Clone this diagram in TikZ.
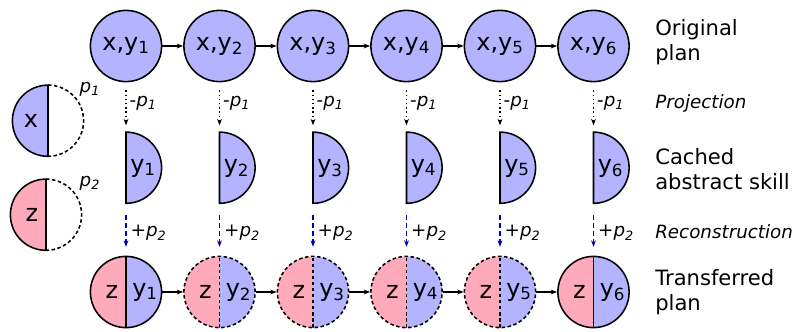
\documentclass[tikz,border=0pt]{standalone}
\usepackage{fontspec}
\setmainfont{DejaVu Sans}
\usetikzlibrary{arrows.meta,calc}
\definecolor{skillfill}{RGB}{179,179,255}
\definecolor{taskfill}{RGB}{255,170,187}
\definecolor{recblue}{RGB}{0,0,185}

\begin{document}
\begin{tikzpicture}[
  x=0.025cm, y=0.025cm,
  font=\fontsize{15}{18}\selectfont,
  big/.style={font=\fontsize{17}{20}\selectfont},
  plan/.style={circle, draw, line width=1.1pt, fill=skillfill, minimum size=1.78cm, inner sep=0pt, big},
  spot/.style={circle, minimum size=1.78cm, inner sep=0pt, big},
  rim/.style={line width=1.1pt},
  open/.style={line width=1.1pt, dash pattern=on 2.5pt off 1.8pt},
  mixed/.style={circle, draw, line width=1.1pt, minimum size=1.78cm, inner sep=0pt, #1,
    path picture={
      \fill[taskfill] (path picture bounding box.south west) rectangle (path picture bounding box.north);
      \fill[skillfill] (path picture bounding box.south) rectangle (path picture bounding box.north east);
      \draw[line width=1.1pt, #1] (path picture bounding box.south) -- (path picture bounding box.north);}},
  mixed/.default=rim,
  next/.style={line width=0.8pt, -{Stealth[length=1.6mm, width=1.2mm]}},
  proj/.style={line width=1pt, dotted, -{Stealth[length=1.6mm, width=1.2mm]}, shorten <=0.2cm, shorten >=0.17cm},
  recon/.style={recblue, line width=1pt, dash pattern=on 3.5pt off 2.2pt, -{Stealth[length=1.6mm, width=1.2mm]}, shorten <=0.28cm, shorten >=0.22cm},
  diff/.style={font=\fontsize{13}{15}\selectfont, anchor=west, inner sep=1pt},
  row/.style={anchor=west, align=left, inner sep=0pt},
  stage/.style={anchor=west, inner sep=0pt, font=\fontsize{13}{15}\selectfont\itshape},
]
\useasboundingbox (0,0) rectangle (797,-331);

% original plan
\node[plan] (o1) at (126,-46) {x,y\textsubscript{1}};
\node[plan] (o2) at (219.5,-46) {x,y\textsubscript{2}};
\node[plan] (o3) at (313,-46) {x,y\textsubscript{3}};
\node[plan] (o4) at (406.5,-46) {x,y\textsubscript{4}};
\node[plan] (o5) at (500,-46) {x,y\textsubscript{5}};
\node[plan] (o6) at (593.5,-46) {x,y\textsubscript{6}};
\draw[next] (o1) -- (o2);
\draw[next] (o2) -- (o3);
\draw[next] (o3) -- (o4);
\draw[next] (o4) -- (o5);
\draw[next] (o5) -- (o6);

% cached abstract skill
\node[spot] (c1) at (126,-168) {};
\node[spot] (c2) at (219.5,-168) {};
\node[spot] (c3) at (313,-168) {};
\node[spot] (c4) at (406.5,-168) {};
\node[spot] (c5) at (500,-168) {};
\node[spot] (c6) at (593.5,-168) {};
\filldraw[rim, fill=skillfill] (c1.north) arc[start angle=90, end angle=-90, radius=0.89cm] -- cycle;
\filldraw[rim, fill=skillfill] (c2.north) arc[start angle=90, end angle=-90, radius=0.89cm] -- cycle;
\filldraw[rim, fill=skillfill] (c3.north) arc[start angle=90, end angle=-90, radius=0.89cm] -- cycle;
\filldraw[rim, fill=skillfill] (c4.north) arc[start angle=90, end angle=-90, radius=0.89cm] -- cycle;
\filldraw[rim, fill=skillfill] (c5.north) arc[start angle=90, end angle=-90, radius=0.89cm] -- cycle;
\filldraw[rim, fill=skillfill] (c6.north) arc[start angle=90, end angle=-90, radius=0.89cm] -- cycle;
\node[big] (cy1) at ($(c1)+(17,0)$) {y\textsubscript{1}};
\node[big] (cy2) at ($(c2)+(17,0)$) {y\textsubscript{2}};
\node[big] (cy3) at ($(c3)+(17,0)$) {y\textsubscript{3}};
\node[big] (cy4) at ($(c4)+(17,0)$) {y\textsubscript{4}};
\node[big] (cy5) at ($(c5)+(17,0)$) {y\textsubscript{5}};
\node[big] (cy6) at ($(c6)+(17,0)$) {y\textsubscript{6}};

% transferred plan
\node[mixed] (t1) at (126,-292) {};
\node[mixed=open] (t2) at (219.5,-292) {};
\node[mixed=open] (t3) at (313,-292) {};
\node[mixed=open] (t4) at (406.5,-292) {};
\node[mixed=open] (t5) at (500,-292) {};
\node[mixed] (t6) at (593.5,-292) {};
\node[big] (tz1) at ($(t1)+(-14,0)$) {z}; \node[big] (ty1) at ($(t1)+(19,0)$) {y\textsubscript{1}};
\node[big] (tz2) at ($(t2)+(-14,0)$) {z}; \node[big] (ty2) at ($(t2)+(19,0)$) {y\textsubscript{2}};
\node[big] (tz3) at ($(t3)+(-14,0)$) {z}; \node[big] (ty3) at ($(t3)+(19,0)$) {y\textsubscript{3}};
\node[big] (tz4) at ($(t4)+(-14,0)$) {z}; \node[big] (ty4) at ($(t4)+(19,0)$) {y\textsubscript{4}};
\node[big] (tz5) at ($(t5)+(-14,0)$) {z}; \node[big] (ty5) at ($(t5)+(19,0)$) {y\textsubscript{5}};
\node[big] (tz6) at ($(t6)+(-14,0)$) {z}; \node[big] (ty6) at ($(t6)+(19,0)$) {y\textsubscript{6}};
\draw[next] (t1) -- (t2);
\draw[next] (t2) -- (t3);
\draw[next] (t3) -- (t4);
\draw[next] (t4) -- (t5);
\draw[next] (t5) -- (t6);

% projection and reconstruction
\draw[proj] (o1) -- (c1); \node[diff] (m1) at (128,-103) {-\textit{p\textsubscript{1}}};
\draw[proj] (o2) -- (c2); \node[diff] (m2) at (221.5,-103) {-\textit{p\textsubscript{1}}};
\draw[proj] (o3) -- (c3); \node[diff] (m3) at (315,-103) {-\textit{p\textsubscript{1}}};
\draw[proj] (o4) -- (c4); \node[diff] (m4) at (408.5,-103) {-\textit{p\textsubscript{1}}};
\draw[proj] (o5) -- (c5); \node[diff] (m5) at (502,-103) {-\textit{p\textsubscript{1}}};
\draw[proj] (o6) -- (c6); \node[diff] (m6) at (595.5,-103) {-\textit{p\textsubscript{1}}};
\draw[recon] (c1) -- (t1); \node[diff] (a1) at (129,-233) {+\textit{p\textsubscript{2}}};
\draw[recon] (c2) -- (t2); \node[diff] (a2) at (222.5,-233) {+\textit{p\textsubscript{2}}};
\draw[recon] (c3) -- (t3); \node[diff] (a3) at (316,-233) {+\textit{p\textsubscript{2}}};
\draw[recon] (c4) -- (t4); \node[diff] (a4) at (409.5,-233) {+\textit{p\textsubscript{2}}};
\draw[recon] (c5) -- (t5); \node[diff] (a5) at (503,-233) {+\textit{p\textsubscript{2}}};
\draw[recon] (c6) -- (t6); \node[diff] (a6) at (596.5,-233) {+\textit{p\textsubscript{2}}};

% legend on the left
\node[spot] (lx) at (48,-121) {};
\fill[skillfill] (lx.north) arc[start angle=90, end angle=270, radius=0.89cm] -- cycle;
\draw[rim] (lx.south) -- (lx.north) arc[start angle=90, end angle=270, radius=0.89cm];
\draw[open] (lx.north) arc[start angle=90, end angle=-90, radius=0.89cm];
\node[big] (lxt) at ($(lx)+(-17,0)$) {x};
\node[diff] (lp1) at (78,-89) {\textit{p\textsubscript{1}}};
\node[spot] (lz) at (46,-215) {};
\fill[taskfill] (lz.north) arc[start angle=90, end angle=270, radius=0.89cm] -- cycle;
\draw[rim] (lz.south) -- (lz.north) arc[start angle=90, end angle=270, radius=0.89cm];
\draw[open] (lz.north) arc[start angle=90, end angle=-90, radius=0.89cm];
\node[big] (lzt) at ($(lz)+(-14,0)$) {z};
\node[diff] (lp2) at (78,-183) {\textit{p\textsubscript{2}}};

% row captions
\node[row] (r1) at (655,-42) {Original\\plan};
\node[stage] (r2) at (655,-103) {Projection};
\node[row] (r3) at (655,-169) {Cached\\abstract skill};
\node[stage] (r4) at (655,-232) {Reconstruction};
\node[row] (r5) at (655,-292) {Transferred\\plan};
\end{tikzpicture}
\end{document}
